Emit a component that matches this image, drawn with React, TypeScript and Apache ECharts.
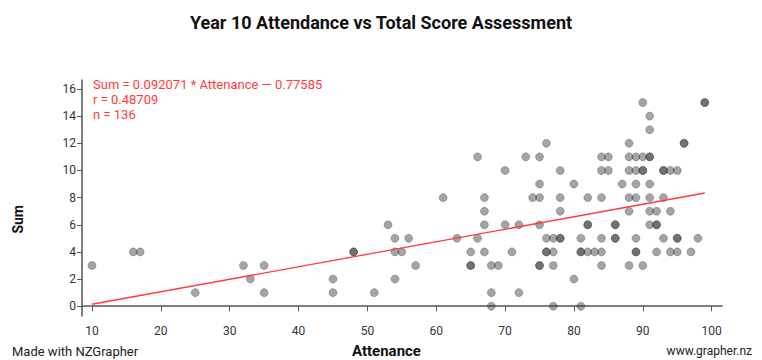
import React, { useEffect, useRef } from "react";
import * as echarts from "echarts";

const attendance: number[] = [
  10, 16, 17, 25, 32, 33, 35, 35, 45, 45, 48, 48, 51, 53, 54, 54, 54, 55, 56, 57,
  61, 63, 65, 65, 65, 66, 66, 67, 67, 67, 67, 68, 68, 68, 69, 70, 70, 71, 72, 72,
  73, 74, 75, 75, 75, 75, 75, 75, 76, 76, 76, 76, 77, 77, 77, 77, 78, 78, 78, 78,
  78, 80, 80, 81, 81, 81, 81, 82, 82, 82, 82, 83, 84, 84, 84, 84, 84, 84, 85, 85,
  86, 86, 86, 86, 87, 88, 88, 88, 88, 88, 88, 89, 89, 89, 89, 89, 89, 89, 90, 90,
  90, 90, 90, 91, 91, 91, 91, 91, 91, 91, 91, 92, 92, 92, 92, 93, 93, 93, 93, 94,
  94, 94, 95, 95, 95, 95, 96, 96, 97, 98, 99, 99,
];
const sum: number[] = [
  3, 4, 4, 1, 3, 2, 3, 1, 2, 1, 4, 4, 1, 6, 5, 4, 2, 4, 5, 3,
  8, 5, 4, 3, 3, 11, 5, 8, 7, 6, 4, 3, 1, 0, 3, 10, 6, 4, 6, 1,
  11, 8, 8, 11, 9, 6, 3, 3, 12, 5, 4, 4, 5, 4, 3, 0, 5, 5, 10, 8,
  7, 9, 2, 5, 4, 4, 0, 8, 6, 6, 4, 4, 11, 10, 8, 5, 4, 3, 11, 10,
  6, 6, 5, 5, 9, 12, 11, 10, 8, 7, 3, 11, 10, 9, 8, 5, 4, 4, 11, 10,
  10, 3, 15, 11, 11, 9, 8, 7, 6, 14, 13, 7, 6, 6, 4, 10, 10, 8, 5, 10,
  7, 4, 10, 4, 5, 5, 12, 12, 4, 5, 15, 15,
];
const slope = 0.092071;
const intercept = -0.77585;
const fitRange: number[] = [10, 99];
const xTicks: number[] = [10, 20, 30, 40, 50, 60, 70, 80, 90, 100];
const yTicks: number[] = [0, 2, 4, 6, 8, 10, 12, 14, 16];
const annotationLines: string[] = [
  "Sum = 0.092071 * Attenance \u2014 0.77585",
  "r = 0.48709",
  "n = 136",
];

export default function App() {
  const ref = useRef<HTMLDivElement>(null);
  useEffect(() => {
    if (!ref.current) return;
    const chart = echarts.init(ref.current, null, { renderer: "svg" });
    const points = attendance.map((a, i) => [a, sum[i]]);
    const fit = fitRange.map((x) => [x, slope * x + intercept]);
    const font = "Roboto, 'Noto Sans', Arial, sans-serif";
    const red = "#ff3b3b";
    chart.setOption({
      animation: false,
      textStyle: { fontFamily: font },
      title: {
        text: "Year 10 Attendance vs Total Score Assessment",
        left: "center",
        top: 8,
        textStyle: { fontSize: 18, fontWeight: "bold", color: "#111", fontFamily: font },
      },
      grid: { left: 82, right: 40, top: 80, bottom: 44 },
      xAxis: {
        type: "value",
        min: 8.55,
        max: 101.5,
        splitLine: { show: false },
        axisLine: { show: true, lineStyle: { color: "#555", width: 1.5 } },
        axisTick: { show: true, customValues: xTicks, length: 5, lineStyle: { color: "#555" } },
        axisLabel: { customValues: xTicks, color: "#333", fontSize: 12, margin: 9 },
      },
      yAxis: {
        type: "value",
        min: -0.72,
        max: 16.66,
        splitLine: { show: false },
        axisLine: { show: true, lineStyle: { color: "#555", width: 1.5 } },
        axisTick: { show: true, customValues: yTicks, length: 5, lineStyle: { color: "#555" } },
        axisLabel: { customValues: yTicks, color: "#333", fontSize: 12, margin: 6 },
      },
      series: [
        {
          type: "scatter",
          data: points,
          symbolSize: 8,
          itemStyle: {
            color: "rgba(50,50,50,0.55)",
            borderColor: "rgba(40,40,40,0.35)",
            borderWidth: 1,
          },
          z: 2,
        },
        {
          type: "line",
          data: fit,
          symbol: "none",
          lineStyle: { color: red, width: 1.3 },
          z: 3,
        },
      ],
      graphic: [
        ...annotationLines.map((t, i) => ({
          type: "text",
          left: 93,
          top: 78 + i * 15,
          style: { text: t, fill: red, font: `13px ${font}` },
        })),
        {
          type: "text",
          left: 12,
          top: 345,
          style: { text: "Made with NZGrapher", fill: "#222", font: `13px ${font}` },
        },
        {
          type: "text",
          right: 10,
          top: 345,
          style: { text: "www.grapher.nz", fill: "#222", font: `12px ${font}` },
        },
        {
          type: "text",
          left: 352,
          top: 343,
          style: { text: "Attenance", fill: "#111", font: `bold 15px ${font}` },
        },
        {
          type: "text",
          left: 11,
          top: 205,
          rotation: Math.PI / 2,
          style: { text: "Sum", fill: "#111", font: `bold 14px ${font}` },
        },
      ],
    });
    return () => chart.dispose();
  }, []);
  return <div ref={ref} style={{ width: 762, height: 360, position: "absolute", left: 0, top: 0 }} />;
}
